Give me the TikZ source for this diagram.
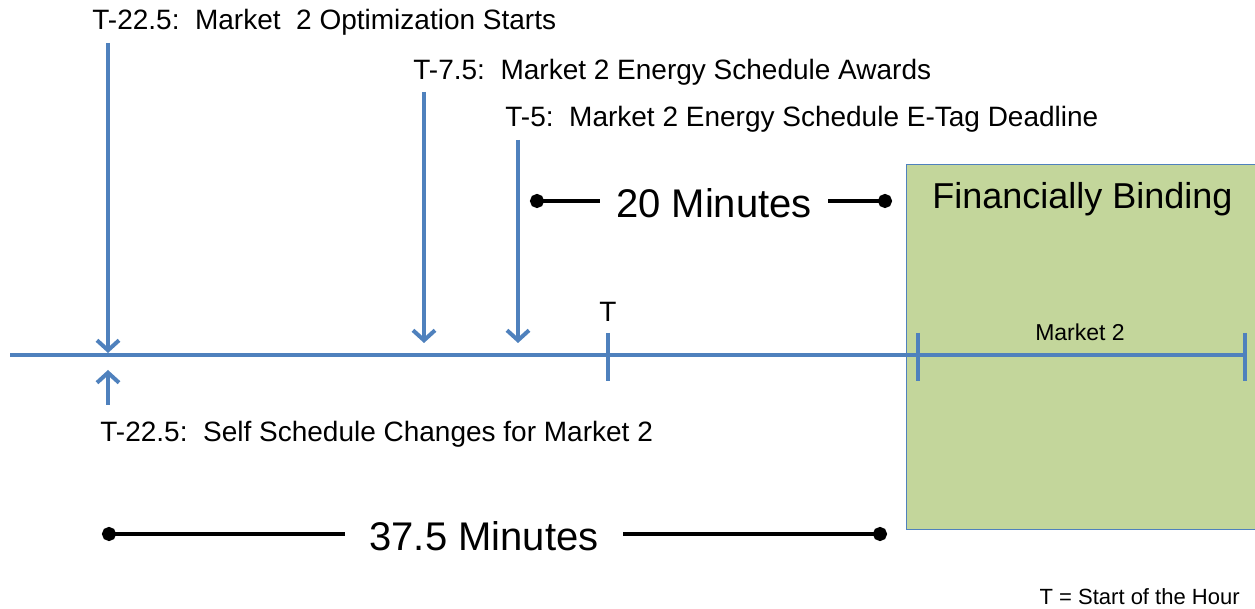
\documentclass[tikz,border=0pt]{standalone}
\usepackage{fontspec}
\setmainfont{Liberation Sans}
\usepackage{xcolor}
\usetikzlibrary{arrows.meta,positioning}

\definecolor{tlblue}{HTML}{4F81BD}
\definecolor{bindgreen}{HTML}{C3D69B}

\begin{document}
\begin{tikzpicture}[x=0.5pt, y=-0.5pt, >={Straight Barb[length=5pt,width=11pt]}]
    \tikzstyle{evt} = [font=\fontsize{14}{16}\selectfont, anchor=base west, inner sep=0pt]
    \tikzstyle{tline} = [draw=tlblue, line width=2pt]
    \tikzstyle{evarrow} = [tline, ->]
    \tikzstyle{span} = [draw=black, line width=2pt, {Circle[length=7pt,width=7pt]}-]
    \tikzstyle{spantext} = [font=\fontsize{20}{24}\selectfont, anchor=base, inner xsep=8pt, inner ysep=0pt]

    \useasboundingbox (0,0) rectangle (1255,609);

    % financially binding window
    \node [draw=tlblue, fill=bindgreen, anchor=north west, minimum width=176pt, minimum height=182.5pt, inner sep=0pt] (bind) at (906,164) {};
    \node [below=9pt of bind.north, font=\fontsize{18}{21}\selectfont, inner sep=0pt] (bindtxt) {Financially Binding};

    % time line
    \coordinate (tlstart) at (10,355);
    \coordinate (tlend) at (1245,355);
    \draw [tline] (tlstart) -- (tlend);
    \foreach \x in {608,918,1245}
        \draw [tline] (\x,333) -- (\x,381);
    \node [evt, anchor=base] (hour) at (608,322) {T};
    \node [font=\fontsize{11.5}{14}\selectfont, anchor=base, inner sep=0pt] (mkt) at (1080,341) {Market 2};

    % events
    \node [evt] (opt) at (92,30) {T-22.5:\ \ Market\ \ 2 Optimization Starts};
    \node [evt] (award) at (413,80) {T-7.5:\ \ Market 2 Energy Schedule Awards};
    \node [evt] (etag) at (505,127) {T-5:\ \ Market 2 Energy Schedule E-Tag Deadline};
    \node [evt] (self) at (100,442) {T-22.5:\ \ Self Schedule Changes for Market 2};

    \coordinate (opttop) at (108,43);
    \coordinate (opttip) at (108,353);
    \coordinate (awardtop) at (424,92);
    \coordinate (awardtip) at (424,343);
    \coordinate (etagtop) at (518,140);
    \coordinate (etagtip) at (518,343);
    \coordinate (selfbot) at (108,405);
    \coordinate (selftip) at (108,370);
    \draw [evarrow] (opttop) -- (opttip);
    \draw [evarrow] (awardtop) -- (awardtip);
    \draw [evarrow] (etagtop) -- (etagtip);
    \draw [evarrow] (selfbot) -- (selftip);

    % spans
    \node [spantext] (m20) at (714,218) {20 Minutes};
    \coordinate (m20a) at (530,201);
    \coordinate (m20b) at (892,201);
    \draw [span] (m20a) -- (m20.west |- m20a);
    \draw [span] (m20b) -- (m20.east |- m20b);

    \node [spantext, inner xsep=12pt] (m37) at (484,551) {37.5 Minutes};
    \coordinate (m37a) at (102,534);
    \coordinate (m37b) at (887,534);
    \draw [span] (m37a) -- (m37.west |- m37a);
    \draw [span] (m37b) -- (m37.east |- m37b);

    \node [font=\fontsize{11}{13}\selectfont, anchor=base east, inner sep=0pt] (note) at (1240,604) {T = Start of the Hour};
\end{tikzpicture}
\end{document}
